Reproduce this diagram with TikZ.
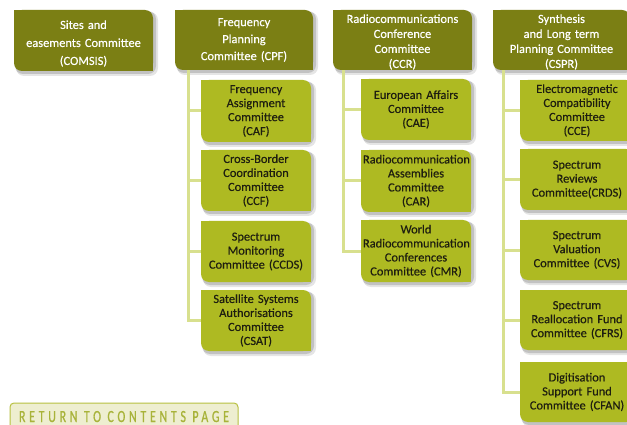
\documentclass[tikz,border=0pt]{standalone}
\usepackage{fontspec}
\setmainfont[FakeBold=0.4]{Carlito}
\newfontfamily\btnfont[FakeStretch=0.7,LetterSpace=22,FakeBold=0.8]{Carlito}
\definecolor{darkolive}{HTML}{7B7F14}
\definecolor{liteolive}{HTML}{AEBA22}
\definecolor{connc}{HTML}{D8E08E}
\definecolor{subtext}{HTML}{1E1E10}
\definecolor{btnfill}{HTML}{EEEED0}
\definecolor{btnline}{HTML}{B8C040}
\definecolor{btntext}{HTML}{A8B33A}
\tikzset{
  topbox/.style={rectangle, inner ysep=0pt, inner xsep=2pt, text=white, align=center,
    font=\fontsize{12.4}{17}\selectfont},
  topbox3/.style={topbox, font=\fontsize{12.4}{18}\selectfont, yshift=-3pt},
  topbox4/.style={topbox, font=\fontsize{12.4}{15}\selectfont, yshift=-2pt},
  subbox/.style={rectangle, inner ysep=0pt, inner xsep=2pt, text=subtext, align=center,
    font=\fontsize{12.4}{14}\selectfont},
  link/.style={draw=connc, line width=3pt},
}
% name, x1, y1, x2, y2, colour, style, text
\newcommand\leafbox[8]{%
  \fill[black,opacity=0.10,rounded corners=8pt] (#2+2,#3+2) rectangle (#4+5,#5+5);
  \fill[black,opacity=0.15,rounded corners=8pt] (#2+1,#3+1) rectangle (#4+3,#5+3);
  \fill[#6,rounded corners=8pt] (#2,#3) rectangle (#4,#5);
  \fill[#6] (#2,#3) rectangle (#2+9,#3+9);
  \fill[#6] (#4-9,#5-9) rectangle (#4,#5);
  \node[#7, text width=#4pt-#2pt-4pt, minimum height=#5pt-#3pt] (#1) at ({(#2+#4)/2},{(#3+#5)/2}) {#8};
}
\begin{document}
\begin{tikzpicture}[x=1pt,y=-1pt]
\useasboundingbox (0,0) rectangle (627,425);
\clip (0,0) rectangle (627,425);
\fill[white] (0,0) rectangle (627,425);

% top row
\leafbox{COMSIS}{14}{10}{153}{71}{darkolive}{topbox3}{Sites and\\easements Committee\\(COMSIS)}
\leafbox{CPF}{175}{10}{313}{70}{darkolive}{topbox}{Frequency\\Planning\\Committee (CPF)}
\leafbox{CCR}{333}{10}{472}{70}{darkolive}{topbox4}{Radiocommunications\\Conference\\Committee\\(CCR)}
\leafbox{CSPR}{493}{10}{630}{70}{darkolive}{topbox4}{Synthesis\\and Long term\\Planning Committee\\(CSPR)}

% CPF children
\leafbox{CAF}{201}{80}{311}{142}{liteolive}{subbox}{Frequency\\Assignment\\Committee\\(CAF)}
\leafbox{CCF}{201}{150}{311}{211}{liteolive}{subbox}{Cross-Border\\Coordination\\Committee\\(CCF)}
\leafbox{CCDS}{201}{221}{311}{282}{liteolive}{subbox}{Spectrum\\Monitoring\\Committee (CCDS)}
\leafbox{CSAT}{201}{290}{311}{351}{liteolive}{subbox}{Satellite Systems\\Authorisations\\Committee\\(CSAT)}

% CCR children
\leafbox{CAE}{361}{79}{471}{140}{liteolive}{subbox}{European Affairs\\Committee\\(CAE)}
\leafbox{CAR}{361}{150}{471}{212}{liteolive}{subbox}{Radiocommunication\\Assemblies\\Committee\\(CAR)}
\leafbox{CMR}{361}{220}{471}{282}{liteolive}{subbox}{World\\Radiocommunication\\Conferences\\Committee (CMR)}

% CSPR children
\leafbox{CCE}{520}{80}{634}{141}{liteolive}{subbox}{Electromagnetic\\Compatibility\\Committee\\(CCE)}
\leafbox{CRDS}{520}{149}{634}{210}{liteolive}{subbox}{Spectrum\\Reviews\\Committee(CRDS)}
\leafbox{CVS}{520}{220}{634}{280}{liteolive}{subbox}{Spectrum\\Valuation\\Committee (CVS)}
\leafbox{CFRS}{520}{290}{634}{350}{liteolive}{subbox}{Spectrum\\Reallocation Fund\\Committee (CFRS)}
\leafbox{CFAN}{520}{362}{634}{422}{liteolive}{subbox}{Digitisation\\Support Fund\\Committee (CFAN)}

% connector lines
\foreach \c in {CAF,CCF,CCDS,CSAT}
  \draw[link] ([xshift=14pt]CPF.south west) |- (\c.west);
\foreach \c in {CAE,CAR,CMR}
  \draw[link] ([xshift=11pt,yshift=2pt]CCR.south west) |- (\c.west);
\foreach \c in {CCE,CRDS,CVS,CFRS,CFAN}
  \draw[link] ([xshift=11pt,yshift=2pt]CSPR.south west) |- (\c.west);

% return button
\draw[fill=btnfill, draw=btnline, line width=1pt, rounded corners=4pt] (10,432) -- (10,403) -- (238,403) [sharp corners] -- (238,432);
\node[text=btntext, font=\btnfont\fontsize{17}{17}\selectfont, inner sep=0pt, anchor=base] (ret) at (124,422) {RETURN TO CONTENTS PAGE};
\end{tikzpicture}
\end{document}
